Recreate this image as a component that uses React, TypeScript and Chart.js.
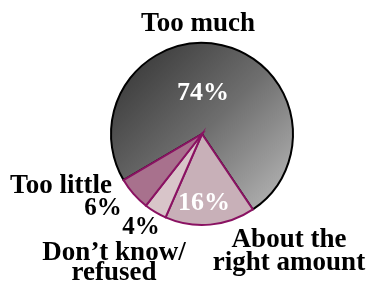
import React, { useEffect, useRef } from "react";
import { Chart, registerables } from "chart.js";

Chart.register(...registerables);

const categories = ["Too much", "About the right amount", "Don\u2019t know/refused", "Too little"];
const values = [74, 16, 4, 6];
const percentLabels = ["74%", "16%", "4%", "6%"];
const sliceColors = ["gradient", "#c8b0b8", "#d8c5c9", "#a8718d"];
const borderColors = ["#000000", "#8a1262", "#8a1262", "#8a1262"];

const labelPlugin = {
  id: "pieLabels",
  afterDraw(chart: any) {
    const meta = chart.getDatasetMeta(0);
    const arc = meta.data[0];
    if (!arc) return;
    const cx = arc.x;
    const cy = arc.y;
    const ctx = chart.ctx;
    ctx.save();
    ctx.textAlign = "center";
    ctx.textBaseline = "alphabetic";
    const big = 'bold 27px "Liberation Serif", "DejaVu Serif", serif';
    const pct = 'bold 26px "Liberation Serif", "DejaVu Serif", serif';
    const pctSmall = 'bold 25px "Liberation Serif", "DejaVu Serif", serif';
    const put = (t: string, dx: number, dy: number, font: string, color: string) => {
      ctx.font = font;
      ctx.fillStyle = color;
      ctx.fillText(t, cx + dx, cy + dy);
    };
    // outside labels
    put(categories[0], -4, -103, big, "#000");
    put("About the", 87, 113, big, "#000");
    put("right amount", 87, 136, big, "#000");
    put("Don\u2019t know/", -88, 126, big, "#000");
    put("refused", -88, 146, big, "#000");
    put(categories[3], -141, 59, big, "#000");
    // percents
    put(percentLabels[0], 1, -34, pct, "#fff");
    put(percentLabels[1], 2, 76, pct, "#fff");
    put(percentLabels[2], -61, 100, pctSmall, "#000");
    put(percentLabels[3], -99, 81, pctSmall, "#000");
    ctx.restore();
  },
};

export default function App() {
  const ref = useRef<HTMLCanvasElement | null>(null);
  useEffect(() => {
    document.body.style.margin = "0";
    const canvas = ref.current;
    if (!canvas) return;
    const chart = new Chart(canvas, {
      type: "pie",
      data: {
        labels: categories,
        datasets: [
          {
            data: values,
            backgroundColor: (c: any) => {
              const col = sliceColors[c.dataIndex];
              if (col !== "gradient") return col;
              const area = c.chart.chartArea;
              if (!area) return "#777";
              const g = c.chart.ctx.createLinearGradient(area.left, area.top, area.right, area.bottom);
              g.addColorStop(0, "#2e2e2e");
              g.addColorStop(0.5, "#6e6e6e");
              g.addColorStop(1, "#c4c4c4");
              return g;
            },
            borderColor: borderColors,
            borderWidth: 2,
            borderJoinStyle: "miter",
          } as any,
        ],
      },
      options: {
        animation: false,
        responsive: false,
        rotation: 239.6,
        layout: { padding: { left: 110, right: 73, top: 42, bottom: 66 } },
        plugins: { legend: { display: false }, tooltip: { enabled: false } },
      },
      plugins: [labelPlugin],
    });
    return () => chart.destroy();
  }, []);
  return (
    <div style={{ position: "absolute", left: 0, top: 0, width: 367, height: 292, background: "#fff" }}>
      <canvas ref={ref} width={367} height={292} />
    </div>
  );
}
